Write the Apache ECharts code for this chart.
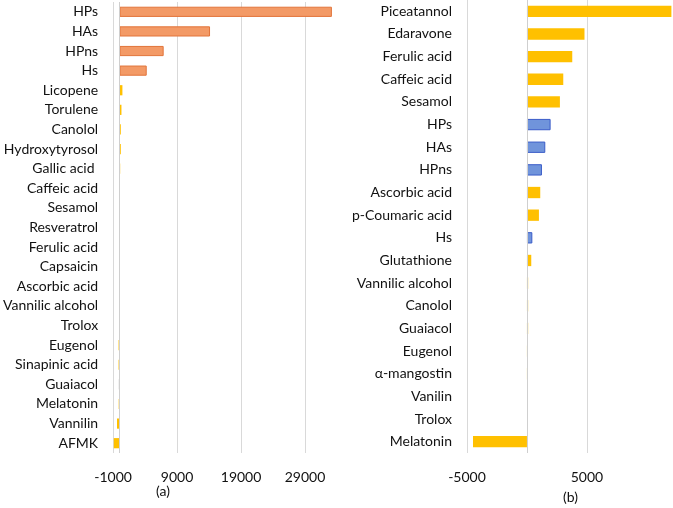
<!DOCTYPE html>
<html><head><meta charset="utf-8">
<script src="https://cdn.jsdelivr.net/npm/echarts@6/dist/echarts.min.js"></script>
<style>html,body{margin:0;padding:0;background:#fff}#c{width:673px;height:508px}</style>
</head><body><div id="c"></div>
<script>
// Panel (a)
const catsA = ['HPs','HAs','HPns','Hs','Licopene','Torulene','Canolol','Hydroxytyrosol','Gallic acid ','Caffeic acid','Sesamol','Resveratrol','Ferulic acid','Capsaicin','Ascorbic acid','Vannilic alcohol','Trolox','Eugenol','Sinapinic acid','Guaiacol','Melatonin','Vannilin','AFMK'];
const valsA = [33200,14150,6900,4250,450,300,200,200,100,40,30,30,30,30,30,30,0,-150,-150,-120,-130,-400,-900];
const axisA = {min:-1000, max:34000, interval:10000};
// Panel (b)
const catsB = ['Piceatannol','Edaravone','Ferulic acid','Caffeic acid','Sesamol','HPs','HAs','HPns','Ascorbic acid','p-Coumaric acid','Hs','Glutathione','Vannilic alcohol','Canolol','Guaiacol','Eugenol','α-mangostin','Vanilin','Trolox','Melatonin'];
const valsB = [12050,4800,3780,3030,2750,1975,1530,1250,1110,1000,450,360,100,100,100,10,60,0,0,-4500];
const axisB = {min:-5000, max:12100, interval:10000};
const groupHighlight = ['HPs','HAs','HPns','Hs'];
const panelLabels = ['(a)','(b)'];

const FONT = 'Lato';
const TXT = '#111';
const GRIDC = '#d9d9d9';

function itemA(name, v){
  if (groupHighlight.includes(name)) return {value:v, itemStyle:{color:'#F39A66', borderColor:'#E2743A', borderWidth:1}};
  if (name === 'Guaiacol') return {value:v, itemStyle:{color:'#C8C8C8'}};
  return {value:v, itemStyle:{color:'#FFC000'}};
}
function itemB(name, v){
  if (groupHighlight.includes(name)) return {value:v, itemStyle:{color:'#7094DB', borderColor:'#3A5CC8', borderWidth:1}};
  return {value:v, itemStyle:{color:'#FFC000'}};
}
function xAx(gi, ax){
  return {type:'value', gridIndex:gi, min:ax.min, max:ax.max, interval:ax.interval,
    axisLine:{show:false}, axisTick:{show:false},
    axisLabel:{color:TXT, fontSize:14, fontFamily:FONT, margin:17, showMaxLabel:false, formatter:v=>String(v)},
    splitLine:{show:true, showMaxLine:false, lineStyle:{color:GRIDC, width:1}}};
}
function yAx(gi, cats){
  return {type:'category', gridIndex:gi, data:cats, inverse:true,
    axisLine:{show:false, onZero:false}, axisTick:{show:false},
    axisLabel:{color:TXT, fontSize:14, fontFamily:FONT, margin:15}};
}
const zeroLine = {silent:true, symbol:['none','none'], label:{show:false}, lineStyle:{color:'#cfcfcf', type:'solid', width:1}, data:[{xAxis:0}]};

const chart = echarts.init(document.getElementById('c'), null, {renderer:'canvas'});
chart.setOption({
  animation:false,
  grid:[
    {left:113, right:336, top:2, bottom:55},
    {left:467, right:1, top:0, bottom:55}
  ],
  xAxis:[xAx(0, axisA), xAx(1, axisB)],
  yAxis:[yAx(0, catsA), yAx(1, catsB)],
  series:[
    {type:'bar', xAxisIndex:0, yAxisIndex:0, barWidth:'52%', data:catsA.map((c,i)=>itemA(c, valsA[i])), markLine:zeroLine},
    {type:'bar', xAxisIndex:1, yAxisIndex:1, barWidth:'50%', data:catsB.map((c,i)=>itemB(c, valsB[i])), markLine:zeroLine}
  ],
  graphic:[
    {type:'text', left:156, top:484, style:{text:panelLabels[0], fill:TXT, font:'14px '+FONT}},
    {type:'text', left:563, top:490, style:{text:panelLabels[1], fill:TXT, font:'14px '+FONT}}
  ]
});
</script></body></html>
